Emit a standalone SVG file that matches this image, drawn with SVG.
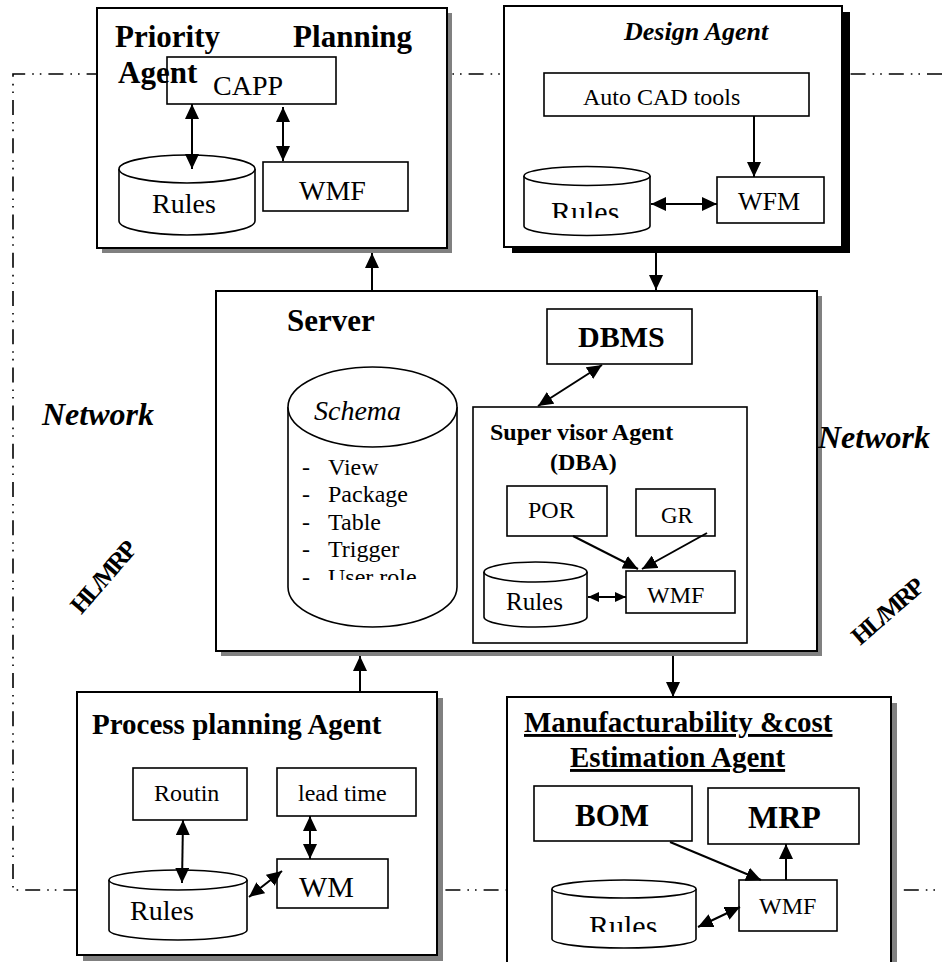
<svg xmlns="http://www.w3.org/2000/svg" width="942" height="962" viewBox="0 0 942 962">
<style>
text{font-family:"Liberation Serif","Times New Roman",serif;fill:#000}
.b{font-weight:bold}
.i{font-style:italic}
.box{fill:#fff;stroke:#000;stroke-width:2}
.ibox{fill:#fff;stroke:#000;stroke-width:1.6}
.sh{fill:#808080}
.cyl{fill:#fff;stroke:#000;stroke-width:1.6}
.con{stroke:#000;stroke-width:2;fill:none}
.net{stroke:#000;stroke-width:1.6;fill:none;stroke-dasharray:15 7 1.6 6 1.6 7}
</style>
<defs>
<marker id="ah" viewBox="0 0 15 14" refX="15" refY="7" markerWidth="15" markerHeight="14" markerUnits="userSpaceOnUse" orient="auto-start-reverse"><path d="M0,0 L15,7 L0,14 Z" fill="#000"/></marker>
<marker id="as" viewBox="0 0 11 10" refX="11" refY="5" markerWidth="11" markerHeight="10" markerUnits="userSpaceOnUse" orient="auto-start-reverse"><path d="M0,0 L11,5 L0,10 Z" fill="#000"/></marker>
<clipPath id="c1"><rect x="500" y="150" width="200" height="68"/></clipPath>
<clipPath id="c2"><rect x="280" y="360" width="200" height="220"/></clipPath>
<clipPath id="c3"><rect x="540" y="870" width="170" height="62"/></clipPath>
</defs>

<path class="net" d="M942,74 H13 V890 H942"/>

<g id="priority-planning-agent">
<rect class="sh" x="102" y="13" width="350" height="240"/>
<rect class="box" x="97" y="8" width="350" height="240"/>
<rect class="ibox" x="167" y="57" width="169" height="47"/>
<text class="b" x="115" y="47" font-size="31">Priority</text>
<text class="b" x="412" y="47" font-size="31" text-anchor="end">Planning</text>
<text class="b" x="118" y="83" font-size="31">Agent</text>
<text x="213" y="95" font-size="28">CAPP</text>
<path class="cyl" d="M119,169 V221 A68,14 0 0 0 255,221 V169"/>
<ellipse class="cyl" cx="187" cy="169" rx="68" ry="14"/>
<text x="152" y="213" font-size="28">Rules</text>
<rect class="ibox" x="263" y="162" width="145" height="49"/>
<text x="299" y="200" font-size="28">WMF</text>
</g>

<g id="design-agent">
<rect x="512" y="12" width="338" height="241" fill="#000"/>
<rect class="box" x="504" y="6" width="338" height="241"/>
<text class="b i" x="624" y="40" font-size="26">Design Agent</text>
<rect class="ibox" x="544" y="73" width="265" height="43"/>
<text x="583" y="105" font-size="24">Auto CAD tools</text>
<rect class="ibox" x="717" y="177" width="107" height="46"/>
<text x="738" y="210" font-size="26">WFM</text>
<path class="cyl" d="M524,176 V226 A63,9.5 0 0 0 650,226 V176"/>
<ellipse class="cyl" cx="587" cy="176" rx="63" ry="9.5"/>
<text x="551" y="222" font-size="30" clip-path="url(#c1)">Rules</text>
</g>

<g id="server">
<rect class="sh" x="221" y="296" width="601" height="360"/>
<rect class="box" x="216" y="291" width="601" height="360"/>
<text class="b" x="287" y="331" font-size="31">Server</text>
<rect class="ibox" x="547" y="309" width="145" height="55"/>
<text class="b" x="578" y="347" font-size="30">DBMS</text>
<path class="cyl" d="M288,407 V587 A84.5,40 0 0 0 457,587 V407"/>
<ellipse class="cyl" cx="372.5" cy="407" rx="84.5" ry="40"/>
<text class="i" x="314" y="420" font-size="28">Schema</text>
<g font-size="24" clip-path="url(#c2)">
<text x="302" y="475">-</text><text x="328" y="475">View</text>
<text x="302" y="502">-</text><text x="328" y="502">Package</text>
<text x="302" y="530">-</text><text x="328" y="530">Table</text>
<text x="302" y="557">-</text><text x="328" y="557">Trigger</text>
<text x="302" y="585">-</text><text x="328" y="585">User role</text>
</g>
</g>

<g id="supervisor-agent">
<rect class="ibox" x="473" y="407" width="274" height="236"/>
<text class="b" x="490" y="440" font-size="24">Super visor Agent</text>
<text class="b" x="550" y="470" font-size="24">(DBA)</text>
<rect class="ibox" x="507" y="486" width="100" height="50"/>
<text x="528" y="518" font-size="24">POR</text>
<rect class="ibox" x="636" y="489" width="79" height="47"/>
<text x="661" y="523" font-size="23">GR</text>
<path class="cyl" d="M484,572 V617 A51.5,10 0 0 0 587,617 V572"/>
<ellipse class="cyl" cx="535.5" cy="572" rx="51.5" ry="10"/>
<text x="506" y="610" font-size="25">Rules</text>
<rect class="ibox" x="626" y="571" width="109" height="42"/>
<text x="647" y="603" font-size="24">WMF</text>
</g>

<g id="process-planning-agent">
<rect class="sh" x="83" y="698" width="360" height="263"/>
<rect class="box" x="77" y="692" width="360" height="263"/>
<text class="b" x="92" y="734" font-size="29">Process planning Agent</text>
<rect class="ibox" x="133" y="768" width="114" height="52"/>
<text x="154" y="801" font-size="24">Routin</text>
<rect class="ibox" x="277" y="768" width="139" height="48"/>
<text x="298" y="801" font-size="24">lead time</text>
<rect class="ibox" x="277" y="859" width="111" height="49"/>
<text x="299" y="897" font-size="30">WM</text>
<path class="cyl" d="M109,880 V930 A69,10 0 0 0 247,930 V880"/>
<ellipse class="cyl" cx="178" cy="880" rx="69" ry="10"/>
<text x="130" y="920" font-size="28">Rules</text>
</g>

<g id="manufacturability-agent">
<rect class="sh" x="513" y="703" width="384" height="280"/>
<rect class="box" x="507" y="697" width="384" height="280"/>
<text class="b" x="524" y="732" font-size="29" text-decoration="underline">Manufacturability &amp;cost</text>
<text class="b" x="570" y="767" font-size="29" text-decoration="underline">Estimation Agent</text>
<rect class="ibox" x="534" y="786" width="158" height="55"/>
<text class="b" x="575" y="826" font-size="31">BOM</text>
<rect class="ibox" x="708" y="788" width="151" height="56"/>
<text class="b" x="748" y="828" font-size="32">MRP</text>
<rect class="ibox" x="739" y="880" width="98" height="51"/>
<text x="759" y="914" font-size="24">WMF</text>
<path class="cyl" d="M552,889 V939 A72,9 0 0 0 696,939 V889"/>
<ellipse class="cyl" cx="624" cy="889" rx="72" ry="9"/>
<text x="589" y="936" font-size="30" clip-path="url(#c3)">Rules</text>
</g>

<g id="labels">
<text class="b i" x="42" y="425" font-size="32">Network</text>
<text class="b i" x="818" y="448" font-size="32">Network</text>
<text class="b" x="0" y="8" font-size="25" letter-spacing="-2.5" text-anchor="middle" transform="translate(103,578) rotate(-49)">HL/MRP</text>
<text class="b" x="0" y="8" font-size="25" letter-spacing="-2.5" text-anchor="middle" transform="translate(887,612) rotate(-41)">HL/MRP</text>
</g>

<g id="connectors">
<line class="con" x1="192" y1="104" x2="192" y2="169" marker-start="url(#ah)" marker-end="url(#ah)"/>
<line class="con" x1="283" y1="107" x2="283" y2="161" marker-start="url(#ah)" marker-end="url(#ah)"/>
<line class="con" x1="754" y1="116" x2="754" y2="177" marker-end="url(#ah)"/>
<line class="con" x1="651" y1="204" x2="717" y2="204" marker-start="url(#ah)" marker-end="url(#ah)"/>
<line class="con" x1="656" y1="250" x2="656" y2="290" marker-end="url(#ah)"/>
<line class="con" x1="372" y1="291" x2="372" y2="253" marker-end="url(#ah)"/>
<line class="con" x1="602" y1="365" x2="538" y2="406" marker-start="url(#ah)" marker-end="url(#ah)"/>
<line class="con" x1="573" y1="536" x2="638" y2="569" marker-end="url(#ah)"/>
<line class="con" x1="707" y1="533" x2="642" y2="569" marker-end="url(#ah)"/>
<line class="con" x1="588" y1="597" x2="626" y2="597" marker-start="url(#as)" marker-end="url(#as)"/>
<line class="con" x1="360" y1="692" x2="360" y2="656" marker-end="url(#ah)"/>
<line class="con" x1="673" y1="656" x2="673" y2="697" marker-end="url(#ah)"/>
<line class="con" x1="183" y1="820" x2="182" y2="883" marker-start="url(#ah)" marker-end="url(#ah)"/>
<line class="con" x1="310" y1="816" x2="310" y2="859" marker-start="url(#ah)" marker-end="url(#ah)"/>
<line class="con" x1="249" y1="897" x2="282" y2="871" marker-start="url(#ah)" marker-end="url(#ah)"/>
<line class="con" x1="670" y1="842" x2="761" y2="880" marker-end="url(#ah)"/>
<line class="con" x1="786" y1="880" x2="786" y2="844" marker-end="url(#ah)"/>
<line class="con" x1="698" y1="927" x2="740" y2="907" marker-start="url(#ah)" marker-end="url(#ah)"/>
</g>
</svg>
